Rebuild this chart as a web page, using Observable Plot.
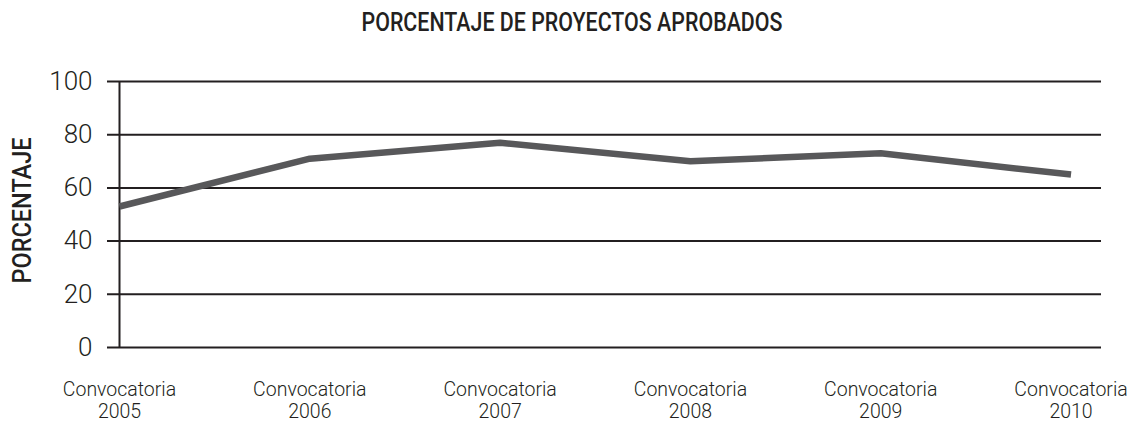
<!DOCTYPE html>
<html>
<head>
<meta charset="utf-8">
<script src="https://cdn.jsdelivr.net/npm/d3@7"></script>
<script src="https://cdn.jsdelivr.net/npm/@observablehq/plot@0.6"></script>
<style>
  html, body { margin: 0; padding: 0; background: #fff; }
  #title { display: block; }
</style>
</head>
<body>
<svg id="title" width="1138" height="45">
  <text x="572" y="22" text-anchor="middle" dominant-baseline="central"
        font-family="Roboto, 'Liberation Sans', sans-serif" font-weight="500" font-size="26"
        fill="#231f20" textLength="421" lengthAdjust="spacingAndGlyphs">PORCENTAJE DE PROYECTOS APROBADOS</text>
</svg>
<div id="chart"></div>
<script>
const categories = ["Convocatoria\n2005", "Convocatoria\n2006", "Convocatoria\n2007", "Convocatoria\n2008", "Convocatoria\n2009", "Convocatoria\n2010"];
const values = [53, 71, 77, 70, 73, 65];
const yTicks = [0, 20, 40, 60, 80, 100];
const yLabel = "PORCENTAJE";

const data = categories.map((c, i) => ({i, c, v: values[i]}));
const ink = "#231f20";

const chart = Plot.plot({
  width: 1138,
  height: 378,
  marginLeft: 119,
  marginRight: 37,
  marginTop: 36,
  marginBottom: 76,
  style: {fontFamily: "Roboto, 'Liberation Sans', sans-serif", color: ink, background: "#fff"},
  x: {type: "linear", domain: [0, 5.16]},
  y: {domain: [0, 100]},
  marks: [
    Plot.ruleY(yTicks, {stroke: ink, strokeWidth: 2, insetLeft: -12}),
    Plot.ruleX([0], {y1: 0, y2: 100, stroke: ink, strokeWidth: 2}),
    Plot.line(data, {x: "i", y: "v", stroke: "#58585a", strokeWidth: 6.5, strokeLinejoin: "miter", strokeLinecap: "butt"}),
    Plot.axisY(yTicks, {tickSize: 0, tickPadding: 27, fontSize: 26, fontWeight: 300, label: null, fill: ink}),
    Plot.axisX(d3.range(categories.length), {tickSize: 0, tickPadding: 33, fontSize: 19.5, fontWeight: 300, lineHeight: 1.12, tickFormat: i => categories[i], label: null, fill: ink}),
    Plot.text([yLabel], {frameAnchor: "left", textAnchor: "middle", lineAnchor: "middle", dx: -97, dy: -4, rotate: -90, fontSize: 26, fontWeight: 500, fill: ink, className: "ylab"})
  ]
});
document.getElementById("chart").appendChild(chart);
chart.querySelectorAll(".ylab text").forEach(t => {
  t.setAttribute("textLength", 146);
  t.setAttribute("lengthAdjust", "spacingAndGlyphs");
});
</script>
</body>
</html>
